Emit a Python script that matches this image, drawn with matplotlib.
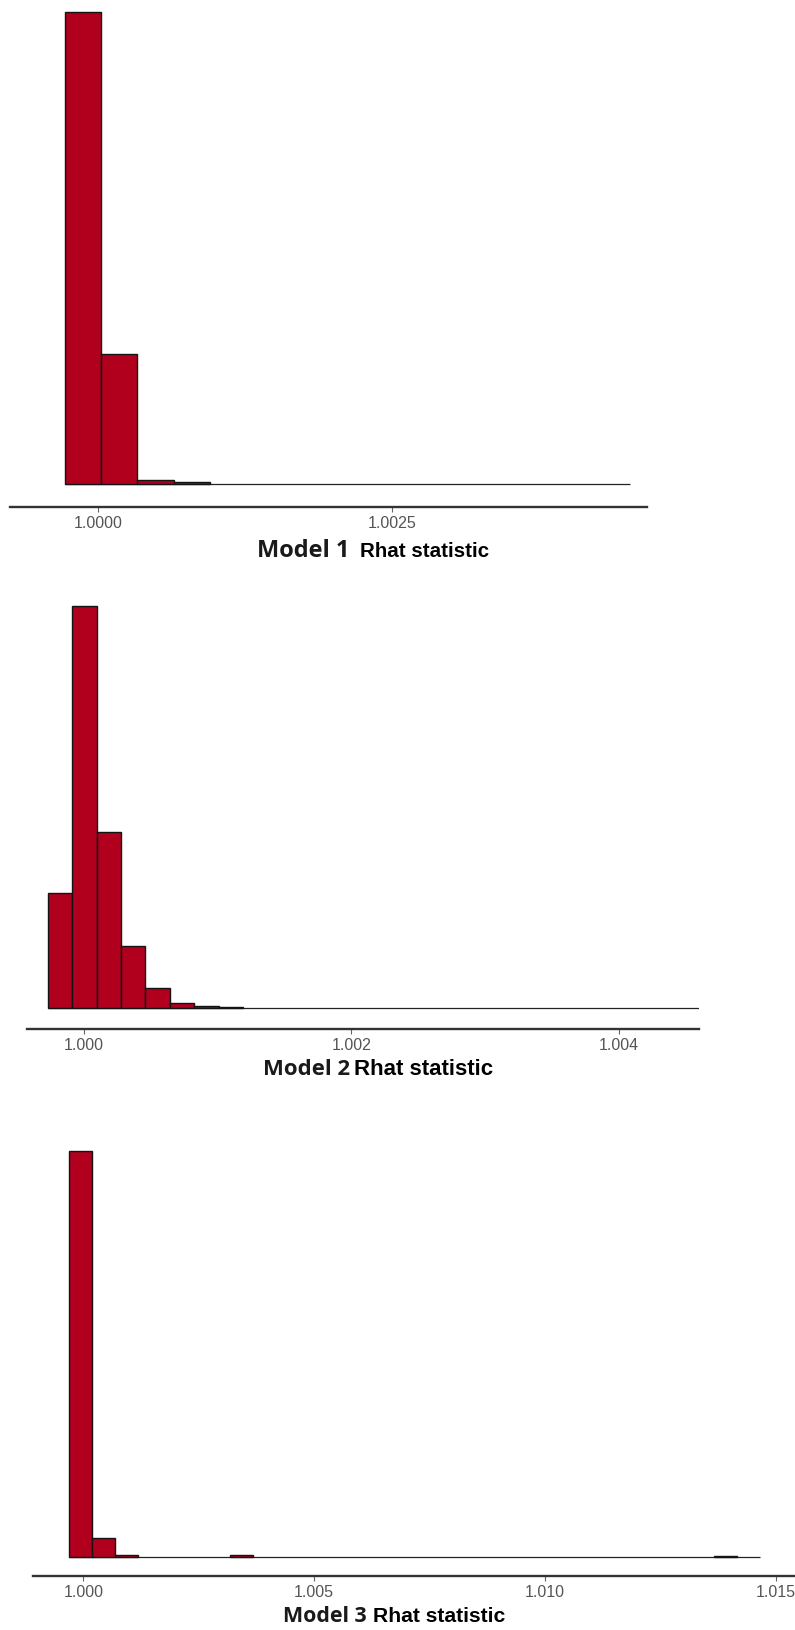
import numpy as np
import matplotlib
matplotlib.use("Agg")
import matplotlib.pyplot as plt

# ---------------- data ----------------
m1_bin_start = 0.9997163
m1_bin_width = 0.0003089
m1_counts = [236, 65, 2, 1]
m1_rhat_max = 1.004531
m1_ticks = [1.0000, 1.0025]
m1_ticklabels = ["1.0000", "1.0025"]

m2_bin_start = 0.999728
m2_bin_width = 0.0001829
m2_counts = [115, 402, 176, 62, 20, 5, 2, 1]
m2_rhat_max = 1.004600
m2_ticks = [1.000, 1.002, 1.004]
m2_ticklabels = ["1.000", "1.002", "1.004"]

m3_bin_start = 0.999684
m3_bin_width = 0.000499
m3_counts = [406, 19, 2, 0, 0, 0, 0, 2, 0, 0, 0, 0, 0, 0, 0, 0, 0, 0, 0, 0,
             0, 0, 0, 0, 0, 0, 0, 0, 1, 0]
m3_rhat_max = 1.014654
m3_ticks = [1.000, 1.005, 1.010, 1.015]
m3_ticklabels = ["1.000", "1.005", "1.010", "1.015"]

model_labels = ["Model 1", "Model 2", "Model 3"]
stat_label = "Rhat statistic"

# ---------------- layout ----------------
W, H = 795, 1630
fig = plt.figure(figsize=(W / 100, H / 100), dpi=100)

BAR_COLOR = "#B0001E"
EDGE_COLOR = "#141414"
TICK_COLOR = "#555555"


def fx(px):
    return px / W


def fy(py):
    return 1 - py / H


panels = [
    dict(start=m1_bin_start, width=m1_bin_width, counts=m1_counts, rmax=m1_rhat_max,
         ticks=m1_ticks, labels=m1_ticklabels,
         L=10, R=646.7, axis_y=506.7, base_y=484.3, top_y=12.3,
         xlim=(0.999248, 1.004673),
         title_y=557.3, model_x=257, model_fs=17.0, stat_x=360, stat_fs=14.8),
    dict(start=m2_bin_start, width=m2_bin_width, counts=m2_counts, rmax=m2_rhat_max,
         ticks=m2_ticks, labels=m2_ticklabels,
         L=26.7, R=699, axis_y=1028.7, base_y=1008.3, top_y=606,
         xlim=(0.999571, 1.004600),
         title_y=1075, model_x=263, model_fs=15.9, stat_x=354, stat_fs=16.0),
    dict(start=m3_bin_start, width=m3_bin_width, counts=m3_counts, rmax=m3_rhat_max,
         ticks=m3_ticks, labels=m3_ticklabels,
         L=33.3, R=800, axis_y=1575.8, base_y=1556.7, top_y=1150.7,
         xlim=(0.998917, 1.015527),
         title_y=1621.7, model_x=283.3, model_fs=15.4, stat_x=372.7, stat_fs=15.2),
]

for i, p in enumerate(panels):
    counts = np.array(p["counts"], dtype=float)
    maxc = counts.max()
    T = p["top_y"] - 25
    upp = maxc / (p["base_y"] - p["top_y"])
    ax = fig.add_axes([fx(p["L"]), fy(p["axis_y"]), fx(p["R"] - p["L"]),
                       (p["axis_y"] - T) / H])
    edges = p["start"] + p["width"] * np.arange(len(counts))
    ax.hlines(0, p["start"], p["rmax"], color="#222222", lw=0.9, zorder=1)
    nz = counts > 0
    ax.bar(edges[nz], counts[nz], width=p["width"], align="edge",
           color=BAR_COLOR, edgecolor=EDGE_COLOR, linewidth=1.0, zorder=2)
    ax.set_xlim(*p["xlim"])
    ax.set_ylim(-(p["axis_y"] - p["base_y"]) * upp, maxc + (p["top_y"] - T) * upp)
    for s in ["top", "left", "right"]:
        ax.spines[s].set_visible(False)
    ax.spines["bottom"].set_color("#333333")
    ax.spines["bottom"].set_linewidth(1.7)
    ax.set_yticks([])
    ax.set_xticks(p["ticks"])
    ax.set_xticklabels(p["labels"], family="Liberation Sans", fontsize=11.5,
                       color=TICK_COLOR)
    ax.tick_params(axis="x", length=3.5, width=0.8, color="#666666", pad=3)
    ax.patch.set_alpha(0)

    fig.text(fx(p["model_x"]), fy(p["title_y"]), model_labels[i],
             family="Open Sans", fontweight="bold", fontsize=p["model_fs"],
             color="#1a1a1a", ha="left", va="baseline")
    fig.text(fx(p["stat_x"]), fy(p["title_y"]), stat_label,
             family="Liberation Sans", fontweight="bold", fontsize=p["stat_fs"],
             color="#000000", ha="left", va="baseline")

fig.savefig("out.png", dpi=100)
